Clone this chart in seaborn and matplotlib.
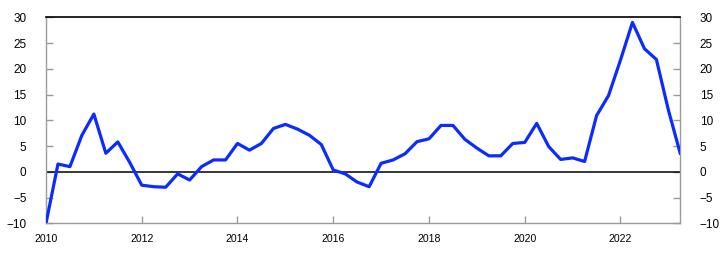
import numpy as np
import pandas as pd
import matplotlib
matplotlib.use("Agg")
import matplotlib.pyplot as plt
import seaborn as sns

# Quarterly values, 2010 Q1 .. 2023 Q2
start_year = 2010
values = [
    -10.0, 1.5, 1.0, 7.1, 11.2, 3.6, 5.8, 1.8,
    -2.6, -2.9, -3.0, -0.4, -1.6, 1.0, 2.3, 2.3,
    5.5, 4.2, 5.5, 8.4, 9.2, 8.3, 7.1, 5.3,
    0.35, -0.4, -2.0, -2.9, 1.65, 2.3, 3.5, 5.85,
    6.4, 9.0, 9.0, 6.3, 4.6, 3.1, 3.1, 5.5,
    5.7, 9.4, 4.9, 2.4, 2.7, 2.0, 10.9, 14.8,
    21.7, 29.0, 23.9, 21.8, 12.0, 3.5,
]
x_ticks = [2010, 2012, 2014, 2016, 2018, 2020, 2022]
y_ticks = [-10, -5, 0, 5, 10, 15, 20, 25, 30]

t = [start_year + i * 0.25 for i in range(len(values))]
df = pd.DataFrame({"t": t, "v": values})

sns.set_theme(style="white")
plt.rcParams["font.family"] = ["Liberation Sans", "DejaVu Sans"]

fig = plt.figure(figsize=(7.22, 2.54), dpi=100)
ax = fig.add_axes([0.0637, 0.1209, 0.8786, 0.8111])

ax.axhline(0, color="black", lw=1.1, zorder=1)
sns.lineplot(data=df, x="t", y="v", ax=ax, color="#0a2cff", lw=2.3, zorder=3)

ax.set_xlim(2010, 2023.25)
ax.set_ylim(-10, 30)
ax.set_xticks(x_ticks)
ax.set_yticks(y_ticks)
ax.set_xlabel("")
ax.set_ylabel("")

gray = "#9a9a9a"
for s in ["left", "right", "bottom"]:
    ax.spines[s].set_color(gray)
    ax.spines[s].set_linewidth(1.0)
ax.spines["top"].set_color("black")
ax.spines["top"].set_linewidth(1.2)

ax.tick_params(axis="both", direction="in", length=5, width=1.0, color=gray,
               labelcolor="black")
ax.tick_params(axis="y", left=True, right=True, labelleft=True, labelright=True,
               pad=14.0, labelsize=8.5)
ax.tick_params(axis="x", bottom=True, top=False, pad=8, labelsize=7.6)

fig.savefig("out.png", dpi=100)
